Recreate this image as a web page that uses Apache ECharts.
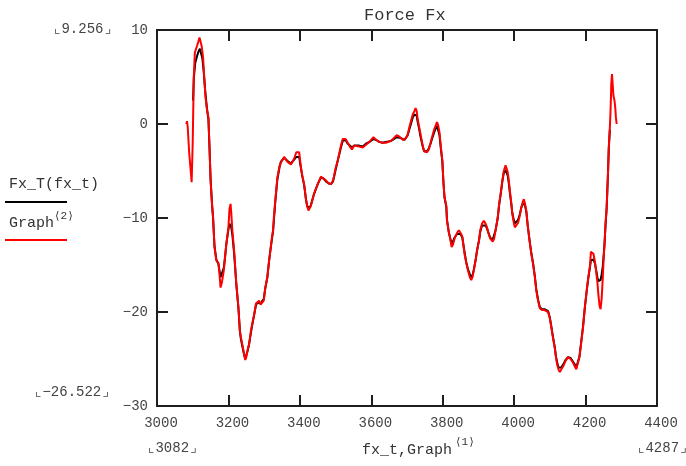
<!DOCTYPE html>
<html><head><meta charset="utf-8">
<script src="https://cdn.jsdelivr.net/npm/echarts@6/dist/echarts.min.js"></script>
<style>html,body{margin:0;padding:0;background:#fff}#c{width:686px;height:466px}</style>
</head><body><div id="c"></div>
<script>
var title = 'Force Fx';
var xTicks = [3000, 4400, 200];
var yTicks = [-30, 10, 10];
var redX = [3082,3084,3086,3090,3097,3100,3103,3106,3112,3116,3119,3122,3125,3129,3133,3136,3140,3144,3147,3150,3154,3157,3161,3166,3172,3175,3178,3182,3187,3191,3194,3200,3203,3206,3208,3211,3216,3222,3228,3232,3235,3242,3247,3250,3254,3258,3263,3268,3272,3277,3281,3286,3290,3295,3299,3303,3309,3314,3319,3322,3325,3328,3331,3337,3343,3347,3356,3365,3370,3375,3384,3390,3393,3398,3403,3407,3412,3417,3421,3424,3428,3431,3440,3450,3459,3466,3473,3480,3487,3493,3496,3500,3506,3515,3520,3523,3528,3534,3540,3546,3552,3557,3566,3576,3585,3595,3606,3614,3622,3632,3641,3648,3655,3663,3671,3677,3683,3689,3693,3697,3702,3707,3711,3716,3721,3724,3727,3730,3734,3737,3744,3748,3752,3756,3761,3766,3770,3776,3780,3784,3787,3791,3795,3799,3802,3805,3810,3812,3817,3820,3825,3829,3833,3840,3845,3850,3855,3861,3866,3871,3876,3880,3884,3887,3892,3896,3902,3905,3910,3915,3920,3924,3929,3933,3940,3944,3948,3954,3958,3963,3967,3971,3976,3979,3982,3985,3988,3992,3995,3999,4002,4006,4011,4016,4020,4024,4027,4030,4034,4038,4043,4048,4053,4058,4062,4067,4072,4078,4085,4090,4095,4100,4104,4109,4114,4117,4120,4124,4128,4132,4137,4144,4151,4158,4165,4170,4174,4178,4183,4188,4193,4198,4204,4208,4212,4215,4218,4222,4226,4230,4233,4236,4239,4242,4245,4248,4250,4253,4256,4259,4261,4263,4265,4268,4270,4271,4272,4274,4276,4278,4281,4283,4285,4287];
var redY = [0.0,0.3,-0.3,-3.0,-6.2,-2.0,5.0,7.6,8.3,8.8,9.2,9.0,8.3,7.1,4.5,2.8,1.5,0.7,-2.5,-6.0,-8.5,-9.9,-13.1,-14.5,-14.8,-16.0,-17.4,-16.8,-15.6,-14.0,-12.8,-11.0,-9.0,-8.5,-9.5,-11.3,-13.5,-17.0,-19.5,-22.0,-22.7,-24.1,-25.1,-24.8,-24.0,-23.4,-22.0,-21.0,-20.3,-19.1,-18.9,-18.8,-19.2,-19.3,-18.8,-17.5,-16.3,-14.5,-13.0,-12.0,-11.3,-9.5,-8.2,-5.7,-4.5,-4.1,-3.5,-4.0,-4.2,-4.3,-3.7,-3.0,-2.8,-3.0,-4.6,-5.5,-6.4,-8.0,-8.8,-9.2,-9.0,-8.7,-7.4,-6.4,-5.6,-5.8,-6.0,-6.3,-6.4,-6.0,-5.5,-4.7,-3.9,-2.3,-1.6,-1.4,-1.6,-2.0,-2.4,-2.7,-2.3,-2.2,-2.4,-2.5,-2.2,-1.9,-1.4,-1.7,-1.9,-2.0,-2.0,-1.9,-1.8,-1.5,-1.2,-1.3,-1.5,-1.7,-1.8,-1.5,-1.1,-0.3,0.3,1.0,1.4,1.7,1.4,0.5,-0.3,-0.9,-2.3,-2.9,-3.1,-3.0,-2.7,-2.0,-1.4,-0.6,-0.2,0.2,-0.1,-0.9,-2.5,-3.9,-6.2,-7.8,-8.7,-10.3,-11.5,-12.0,-13.1,-12.8,-12.2,-11.6,-11.3,-11.6,-12.0,-13.8,-14.8,-15.6,-16.3,-16.6,-16.2,-15.6,-14.5,-13.5,-12.3,-11.3,-10.6,-10.3,-10.6,-11.0,-11.7,-12.2,-12.5,-12.2,-11.3,-10.0,-8.5,-7.2,-6.0,-5.0,-4.4,-4.5,-5.1,-6.0,-7.1,-8.4,-9.6,-10.5,-11.0,-10.9,-10.5,-9.7,-8.9,-8.3,-8.0,-8.4,-9.2,-10.8,-12.4,-13.8,-14.9,-16.3,-17.7,-18.8,-19.6,-19.8,-19.8,-19.7,-20.0,-20.7,-21.6,-22.8,-23.9,-24.8,-25.5,-26.1,-26.4,-26.1,-25.8,-25.2,-24.8,-25.0,-25.4,-25.8,-26.1,-25.9,-24.8,-23.2,-21.6,-19.5,-17.4,-16.2,-15.2,-13.6,-13.4,-13.8,-14.6,-15.8,-16.8,-18.2,-19.3,-19.7,-18.6,-16.5,-14.8,-12.8,-10.5,-8.9,-7.0,-5.0,-2.5,-0.4,1.5,2.8,4.3,5.3,5.2,3.0,2.5,1.8,0.7,0.0];
var blackX = [3101,3103,3107,3112,3116,3120,3123,3127,3131,3135,3140,3144,3147,3150,3154,3157,3161,3166,3172,3175,3178,3182,3187,3191,3194,3200,3203,3206,3208,3211,3216,3222,3228,3232,3235,3242,3247,3250,3254,3258,3263,3268,3272,3277,3281,3286,3290,3295,3299,3303,3309,3314,3319,3325,3331,3337,3343,3347,3356,3365,3370,3375,3384,3390,3393,3398,3403,3407,3412,3417,3421,3424,3428,3431,3440,3450,3459,3466,3473,3480,3487,3493,3500,3506,3515,3520,3523,3528,3534,3540,3546,3552,3557,3566,3576,3585,3595,3606,3614,3622,3632,3641,3655,3663,3671,3683,3693,3702,3707,3711,3716,3721,3724,3727,3730,3734,3737,3744,3748,3752,3756,3761,3766,3770,3776,3780,3784,3787,3791,3795,3799,3802,3805,3810,3812,3817,3820,3825,3829,3833,3840,3845,3850,3855,3861,3866,3871,3876,3880,3884,3887,3892,3896,3902,3905,3910,3915,3920,3924,3929,3933,3940,3944,3948,3954,3958,3963,3967,3971,3976,3979,3982,3985,3988,3992,3995,3999,4002,4006,4011,4016,4020,4024,4027,4030,4034,4038,4043,4048,4053,4058,4062,4067,4072,4078,4085,4090,4095,4100,4104,4109,4114,4117,4120,4124,4128,4132,4137,4144,4151,4158,4165,4170,4174,4178,4183,4188,4193,4198,4204,4208,4212,4215,4218,4222,4226,4230,4233,4236,4239,4242,4245,4248,4250,4253,4256,4259,4261,4263,4265,4268];
var blackY = [2.5,4.8,6.5,7.2,7.7,8.0,7.8,7.0,5.5,3.5,1.6,0.5,-2.5,-5.8,-8.5,-10.0,-13.0,-14.4,-14.9,-15.6,-16.3,-16.2,-15.3,-14.0,-12.8,-11.2,-10.6,-10.6,-11.0,-11.8,-13.8,-17.0,-19.6,-22.0,-22.9,-24.2,-25.0,-24.9,-24.1,-23.4,-22.2,-21.1,-20.3,-19.3,-19.0,-19.0,-19.1,-19.0,-18.6,-17.5,-16.3,-14.5,-13.0,-11.4,-8.4,-5.9,-4.6,-4.0,-3.6,-3.9,-4.1,-4.2,-3.8,-3.5,-3.4,-3.5,-4.7,-5.6,-6.5,-8.0,-8.8,-9.0,-8.9,-8.6,-7.4,-6.4,-5.7,-5.8,-6.1,-6.3,-6.4,-6.1,-4.9,-3.9,-2.5,-1.8,-1.6,-1.7,-2.1,-2.3,-2.5,-2.3,-2.2,-2.3,-2.4,-2.1,-1.9,-1.6,-1.7,-1.9,-2.0,-1.9,-1.8,-1.6,-1.4,-1.5,-1.7,-1.2,-0.5,0.0,0.7,1.0,1.1,0.9,0.2,-0.5,-1.2,-2.4,-2.9,-3.0,-2.9,-2.6,-2.1,-1.6,-0.9,-0.5,-0.2,-0.4,-1.2,-2.7,-4.0,-6.2,-7.8,-8.8,-10.2,-11.5,-12.0,-12.8,-12.6,-12.1,-11.7,-11.5,-11.7,-12.1,-13.6,-14.7,-15.5,-16.0,-16.3,-16.0,-15.5,-14.5,-13.5,-12.3,-11.5,-10.8,-10.6,-10.8,-11.1,-11.7,-12.1,-12.3,-12.1,-11.3,-10.0,-8.6,-7.3,-6.1,-5.2,-4.9,-5.0,-5.5,-6.3,-7.3,-8.5,-9.5,-10.2,-10.6,-10.6,-10.2,-9.6,-8.9,-8.5,-8.3,-8.6,-9.3,-10.8,-12.3,-13.7,-14.8,-16.2,-17.6,-18.7,-19.5,-19.7,-19.7,-19.7,-19.9,-20.6,-21.5,-22.7,-23.8,-24.7,-25.3,-25.9,-26.1,-25.9,-25.6,-25.1,-24.8,-24.9,-25.3,-25.6,-25.9,-25.7,-24.7,-23.1,-21.5,-19.5,-17.5,-16.3,-15.3,-14.5,-14.3,-14.4,-14.8,-15.6,-16.3,-16.7,-16.8,-16.6,-16.0,-15.2,-14.3,-12.8,-10.7,-9.0,-7.0,-5.0,-2.6,-0.6];
var yMaxText = '9.256', yMinText = '\u221226.522', xMinText = '3082', xMaxText = '4287';

function pairs(xs, ys){ var o=[]; for (var i=0;i<xs.length;i++) o.push([xs[i], ys[i]]); return o; }
var FONT = '"Liberation Mono", "DejaVu Sans Mono", monospace';
var axisColor = '#1e1e1e', txt = '#444';
function fmt(v){ return v < 0 ? '\u2212' + (-v) : String(v); }
var lineAx = {onZero:false, lineStyle:{color:axisColor, width:2}};
var tickAx = {inside:true, length:11, lineStyle:{color:axisColor, width:2}};

var chart = echarts.init(document.getElementById('c'), null, {renderer:'canvas'});
chart.setOption({
  animation:false,
  backgroundColor:'#fff',
  grid:{left:157, right:29, top:30, bottom:60, containLabel:false},
  xAxis:[
    {type:'value', min:xTicks[0], max:xTicks[1], interval:xTicks[2], position:'bottom',
     axisLine:lineAx, axisTick:tickAx, splitLine:{show:false},
     axisLabel:{color:txt, fontFamily:FONT, fontSize:14, margin:10, padding:[0,0,0,8], formatter:fmt}},
    {type:'value', min:xTicks[0], max:xTicks[1], interval:xTicks[2], position:'top',
     axisLine:lineAx, axisTick:tickAx, splitLine:{show:false}, axisLabel:{show:false}}
  ],
  yAxis:[
    {type:'value', min:yTicks[0], max:yTicks[1], interval:yTicks[2], position:'left',
     axisLine:lineAx, axisTick:tickAx, splitLine:{show:false},
     axisLabel:{color:txt, fontFamily:FONT, fontSize:14, margin:9, formatter:fmt}},
    {type:'value', min:yTicks[0], max:yTicks[1], interval:yTicks[2], position:'right',
     axisLine:lineAx, axisTick:tickAx, splitLine:{show:false}, axisLabel:{show:false}}
  ],
  series:[
    {type:'line', name:'Fx_T(fx_t)', data:pairs(blackX, blackY), showSymbol:false, symbol:'none',
     lineStyle:{color:'#000', width:2}, xAxisIndex:0, yAxisIndex:0, z:2},
    {type:'line', name:'Graph', data:pairs(redX, redY), showSymbol:false, symbol:'none',
     lineStyle:{color:'#ff0000', width:2}, xAxisIndex:0, yAxisIndex:0, z:3}
  ],
  graphic:[
    {type:'text', left:364, top:7, style:{text:title, font:'17px '+FONT, fill:'#333'}},
    {type:'text', left:53, top:22, style:{text:'\u231E'+yMaxText+'\u231F', font:'14px '+FONT, fill:txt}},
    {type:'text', left:34, top:385, style:{text:'\u231E'+yMinText+'\u231F', font:'14px '+FONT, fill:txt}},
    {type:'text', left:147, top:441, style:{text:'\u231E'+xMinText+'\u231F', font:'14px '+FONT, fill:txt}},
    {type:'text', left:637, top:441, style:{text:'\u231E'+xMaxText+'\u231F', font:'14px '+FONT, fill:txt}},
    {type:'text', left:9, top:177, style:{text:'Fx_T(fx_t)', font:'15px '+FONT, fill:'#333'}},
    {type:'line', shape:{x1:5, y1:202, x2:67, y2:202}, style:{stroke:'#000', lineWidth:2}},
    {type:'text', left:9, top:216, style:{text:'Graph', font:'15px '+FONT, fill:'#333'}},
    {type:'text', left:54, top:211, style:{text:'\u27E82\u27E9', font:'11px '+FONT, fill:'#333'}},
    {type:'line', shape:{x1:5, y1:240, x2:67, y2:240}, style:{stroke:'#ff0000', lineWidth:2}},
    {type:'text', left:362, top:443, style:{text:'fx_t,Graph', font:'15px '+FONT, fill:'#333'}},
    {type:'text', left:455, top:437, style:{text:'\u27E81\u27E9', font:'11px '+FONT, fill:'#333'}}
  ]
});
</script></body></html>
